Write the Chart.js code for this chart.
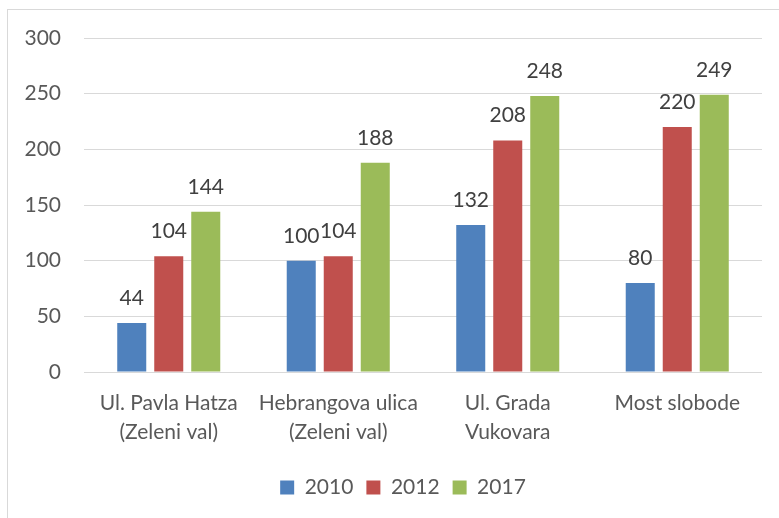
<!DOCTYPE html>
<html><head><meta charset="utf-8">
<script src="https://cdn.jsdelivr.net/npm/chart.js@4"></script>
<style>
html,body{margin:0;padding:0;background:#fff;overflow:hidden;}
#frame{position:absolute;left:7px;top:9px;width:900px;height:700px;border:1px solid #d9d9d9;box-sizing:border-box;}
#wrap{position:absolute;left:0;top:0;width:779px;height:518px;}
</style></head>
<body>
<div id="frame"></div>
<div id="wrap"><canvas id="c" width="779" height="518"></canvas></div>
<script>
const categories = [["Ul. Pavla Hatza","(Zeleni val)"],["Hebrangova ulica","(Zeleni val)"],["Ul. Grada","Vukovara"],["Most slobode"]];
const seriesNames = ["2010","2012","2017"];
const values2010 = [44,100,132,80];
const values2012 = [104,104,208,220];
const values2017 = [144,188,248,249];
const yTicks = [0,50,100,150,200,250,300];
const colors = ["#4F81BD","#C0504D","#9BBB59"];
const FONT = "Lato, 'Open Sans', sans-serif";

const labelPlugin = {
  id:'valueLabels',
  afterLayout(chart){
    if (chart.legend) { chart.legend.left += 44; }
  },
  afterDatasetsDraw(chart){
    const ctx = chart.ctx;
    ctx.save();
    ctx.font = "21px " + FONT;
    ctx.fillStyle = "#404040";
    ctx.textAlign = "center";
    ctx.textBaseline = "alphabetic";
    chart.data.datasets.forEach((ds,i)=>{
      const meta = chart.getDatasetMeta(i);
      meta.data.forEach((bar,j)=>{
        ctx.fillText(String(ds.data[j]), bar.x, bar.y - 18);
      });
    });
    ctx.restore();
  }
};

new Chart(document.getElementById('c'),{
  type:'bar',
  data:{
    labels:categories,
    datasets:[values2010,values2012,values2017].map((d,i)=>({
      label:seriesNames[i], data:d, backgroundColor:colors[i],
      categoryPercentage:0.655, barPercentage:0.784
    }))
  },
  options:{
    responsive:false, animation:false,
    layout:{padding:{top:38,right:17,left:0,bottom:10}},
    plugins:{
      tooltip:{enabled:false},
      legend:{position:'bottom',
        labels:{boxWidth:14,boxHeight:14,color:'#595959',font:{family:FONT,size:21},padding:13}
      }
    },
    scales:{
      y:{min:0,max:300,
        afterBuildTicks(s){ s.ticks = yTicks.map(v=>({value:v})); },
        afterFit(s){ s.width = 84; },
        border:{display:false},
        grid:{color:'#d9d9d9',lineWidth:1,drawTicks:false},
        ticks:{padding:23,color:'#595959',font:{family:FONT,size:21}}
      },
      x:{
        border:{display:false},
        grid:{display:false,drawTicks:false},
        ticks:{padding:17,color:'#595959',font:{family:FONT,size:21,lineHeight:1.38},maxRotation:0,autoSkip:false}
      }
    }
  },
  plugins:[labelPlugin]
});
</script>
</body></html>
